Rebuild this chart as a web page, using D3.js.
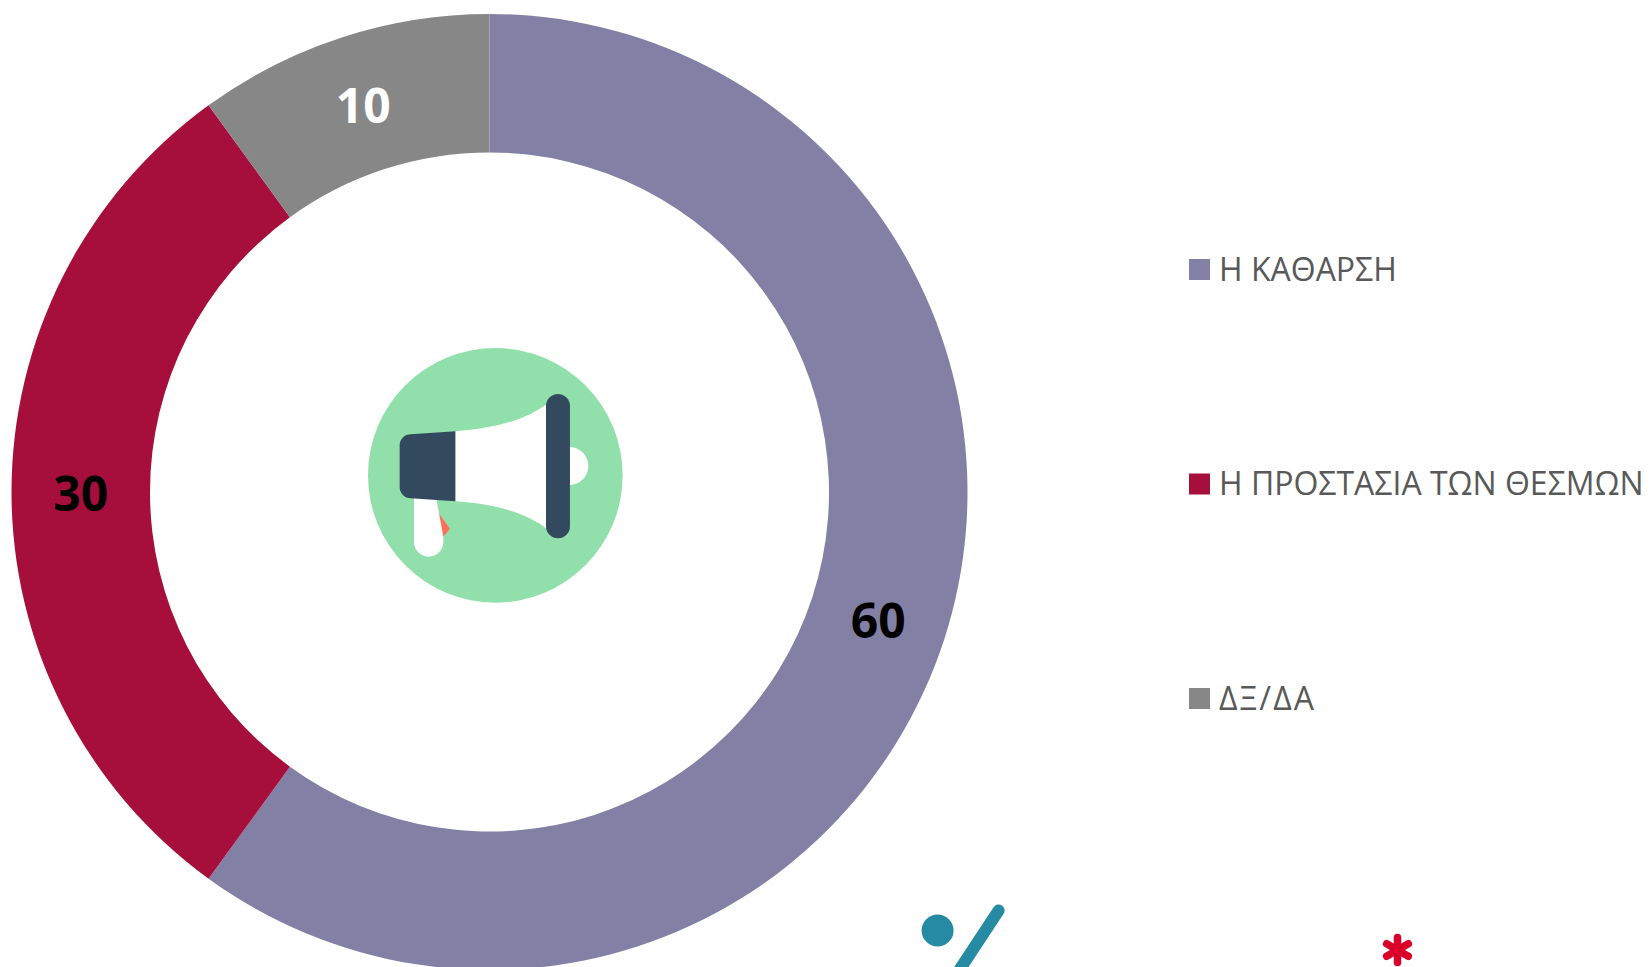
<!DOCTYPE html>
<html lang="el">
<head>
<meta charset="UTF-8">
<title>Donut</title>
<script src="https://d3js.org/d3.v7.min.js"></script>
<style>
  html, body { margin: 0; padding: 0; background: #fff; overflow: hidden; }
  svg { display: block; }
  .legend-label { font-family: "Open Sans", sans-serif; font-size: 32px; fill: #595959; }
  .value-label { font-family: "Open Sans", sans-serif; font-size: 48px; font-weight: 700; text-anchor: middle; }
</style>
</head>
<body>
<svg id="chart" width="1652" height="967"></svg>
<script>
const categories = ["Η ΚΑΘΑΡΣΗ", "Η ΠΡΟΣΤΑΣΙΑ ΤΩΝ ΘΕΣΜΩΝ", "ΔΞ/ΔΑ"];
const values = [60, 30, 10];
const sliceColors = ["#8380a5", "#a60f3b", "#878787"];
const labelColors = ["#000000", "#000000", "#ffffff"];

const svg = d3.select("#chart");
const cx = 489.5, cy = 492, outerR = 478, innerR = 339.5;

const pie = d3.pie().sort(null).value(d => d);
const arc = d3.arc().innerRadius(innerR).outerRadius(outerR);
const color = d3.scaleOrdinal().domain(categories).range(sliceColors);

const donut = svg.append("g").attr("transform", `translate(${cx},${cy})`);
const arcs = pie(values);

donut.selectAll("path")
  .data(arcs)
  .join("path")
  .attr("d", arc)
  .attr("fill", (d, i) => color(categories[i]));

donut.selectAll("text")
  .data(arcs)
  .join("text")
  .attr("class", "value-label")
  .attr("x", d => arc.centroid(d)[0])
  .attr("y", d => arc.centroid(d)[1] + 2)
  .attr("dy", "0.36em")
  .attr("fill", (d, i) => labelColors[i])
  .text(d => d.value);

// legend
const legendY = d3.scalePoint().domain(categories).range([269.5, 698.5]);
const legend = svg.append("g");
legend.selectAll("rect")
  .data(categories)
  .join("rect")
  .attr("x", 1189)
  .attr("y", d => legendY(d) - 10.5)
  .attr("width", 21)
  .attr("height", 21)
  .attr("fill", d => color(d));
legend.selectAll("text")
  .data(categories)
  .join("text")
  .attr("class", "legend-label")
  .attr("x", 1219)
  .attr("y", d => legendY(d) + 11)
  .text(d => d);
// last label runs wider in the original font
legend.selectAll("text").filter((d, i) => i === 2).attr("textLength", 95);

// megaphone icon in the hole, drawn in 3x crop units
const icon = svg.append("g").attr("transform", "translate(340,320) scale(0.3333)");
icon.append("circle").attr("cx", 466).attr("cy", 466).attr("r", 382).attr("fill", "#91e0ab");
icon.append("path").attr("fill", "#ff7058").attr("d", "M292 574L330 626L308 652Z");
icon.append("path").attr("fill", "#ffffff").attr("d", "M222 530H288L310 650V666A44 44 0 0 1 222 666Z");
icon.append("path").attr("fill", "#ffffff").attr("d", "M688 381A57 57 0 0 1 688 495Z");
icon.append("path").attr("fill", "#ffffff").attr("d", "M346 334C460 326 560 300 625 248V630C560 576 460 552 346 544Z");
icon.append("path").attr("fill", "#334a5e").attr("d", "M346 334V544L212 535A33 33 0 0 1 179 502V376A33 33 0 0 1 212 343Z");
icon.append("rect").attr("x", 618).attr("y", 222).attr("width", 72).attr("height", 433).attr("rx", 36).attr("fill", "#334a5e");

// decorative bits cut off at the bottom edge
const deco = svg.append("g");
deco.append("circle").attr("cx", 937.6).attr("cy", 930.5).attr("r", 16).attr("fill", "#268aa5");
deco.append("line").attr("x1", 998.6).attr("y1", 910.5).attr("x2", 949.5).attr("y2", 985)
  .attr("stroke", "#268aa5").attr("stroke-width", 12).attr("stroke-linecap", "round");
const star = deco.append("g").attr("transform", "translate(1397.5,950)");
star.selectAll("line")
  .data([90, 30, -30])
  .join("line")
  .attr("x1", d => -12.5 * Math.cos(d * Math.PI / 180))
  .attr("y1", d => -12.5 * Math.sin(d * Math.PI / 180))
  .attr("x2", d => 12.5 * Math.cos(d * Math.PI / 180))
  .attr("y2", d => 12.5 * Math.sin(d * Math.PI / 180))
  .attr("stroke", "#d9002a").attr("stroke-width", 7.5).attr("stroke-linecap", "round");
</script>
</body>
</html>
